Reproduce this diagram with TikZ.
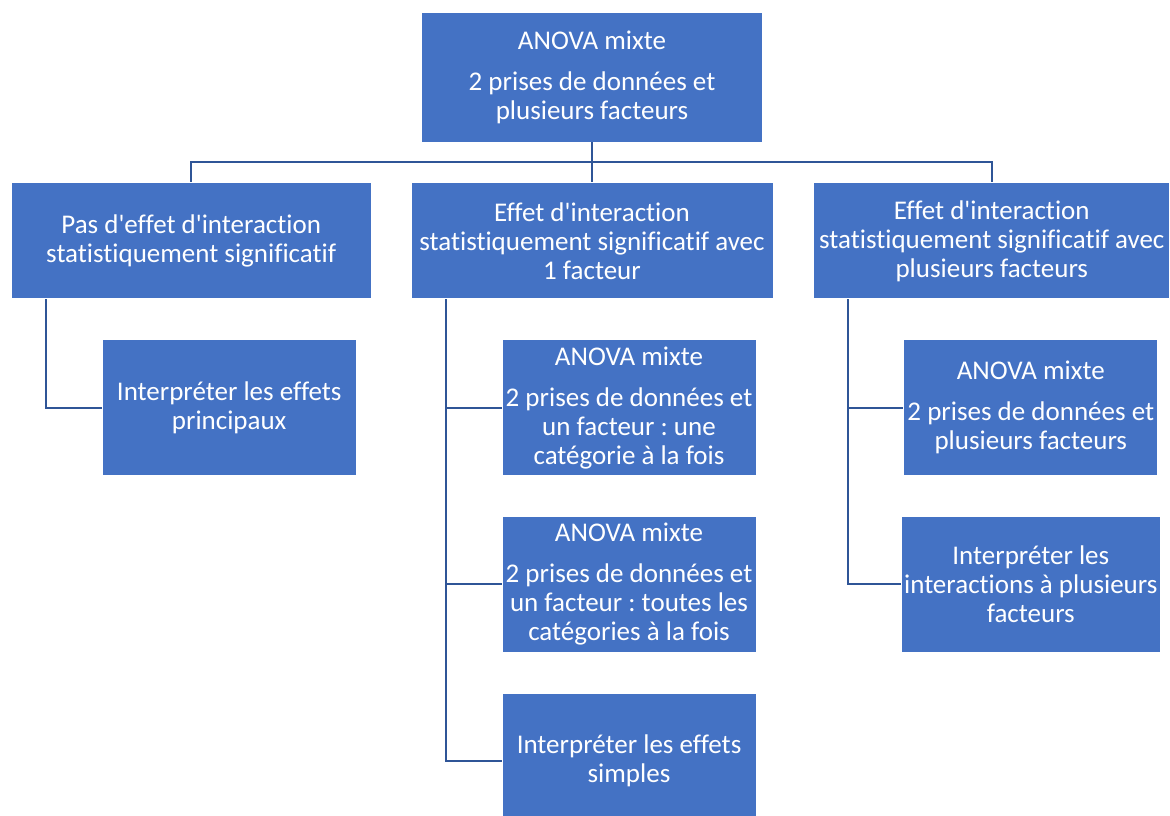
\documentclass[tikz,border=0pt]{standalone}
\usepackage{fontspec}
\setmainfont{Carlito}[Ligatures={NoCommon}]
\usepackage{xcolor}
\usetikzlibrary{positioning}

\definecolor{boxblue}{HTML}{4472C4}
\definecolor{lineblue}{HTML}{2F5597}

\begin{document}
\frenchspacing
\begin{tikzpicture}[
    x=1pt, y=1pt,
    node distance=40pt and 40pt,
    box/.style={rectangle, draw=white, line width=0.8pt, fill=boxblue, text=white,
        align=center, inner sep=3pt, font=\fontsize{27}{29}\selectfont},
    topbox/.style={box, minimum width=341pt, minimum height=130pt},
    casebox/.style={box, minimum width=360pt, minimum height=116pt},
    stepbox/.style={box, minimum width=254pt, minimum height=136pt},
    link/.style={draw=lineblue, line width=2pt}
]
    \useasboundingbox (0,0) rectangle (1170,-816);

    % Top
    \node[topbox] (top) at (592,-77) {ANOVA mixte\\[12pt]2 prises de données et\\plusieurs facteurs};

    % Level 2: cases
    \node[casebox, minimum width=362pt, below=40pt of top] (B)
        {Effet d\textquotesingle interaction\\statistiquement significatif avec\\1 facteur};
    \node[casebox, left=39pt of B] (A)
        {Pas d\textquotesingle effet d\textquotesingle interaction\\statistiquement significatif};
    \node[casebox, minimum width=356pt, right=40pt of B] (C)
        {Effet d\textquotesingle interaction\\statistiquement significatif avec\\plusieurs facteurs};

    % Level 3: steps
    \node[stepbox, below right=40pt and 91pt of A.south west] (A1)
        {Interpréter les effets\\principaux};

    \node[stepbox, below right=40pt and 91pt of B.south west] (B1)
        {ANOVA mixte\\[12pt]2 prises de données et\\un facteur : une\\catégorie à la fois};
    \node[stepbox, below=40pt of B1] (B2)
        {ANOVA mixte\\[12pt]2 prises de données et\\un facteur : toutes les\\catégories à la fois};
    \node[stepbox, below=40pt of B2] (B3)
        {Interpréter les effets\\simples};

    \node[stepbox, below right=40pt and 90pt of C.south west] (C1)
        {ANOVA mixte\\[12pt]2 prises de données et\\plusieurs facteurs};
    \node[stepbox, below=40pt of C1] (C2)
        {Interpréter les\\interactions à plusieurs\\facteurs};

    % Connectors
    \coordinate[below=20pt of top.south] (hub);
    \draw[link] (top) -- (hub);
    \draw[link] (hub) -| (A);
    \draw[link] (hub) -- (B);
    \draw[link] (hub) -| (C);

    \draw[link] ([xshift=35pt]A.south west) |- (A1);

    \draw[link] ([xshift=35pt]B.south west) |- (B3);
    \draw[link] ([xshift=35pt]B.south west) |- (B1);
    \draw[link] ([xshift=35pt]B.south west) |- (B2);

    \draw[link] ([xshift=35pt]C.south west) |- (C2);
    \draw[link] ([xshift=35pt]C.south west) |- (C1);
\end{tikzpicture}
\end{document}
